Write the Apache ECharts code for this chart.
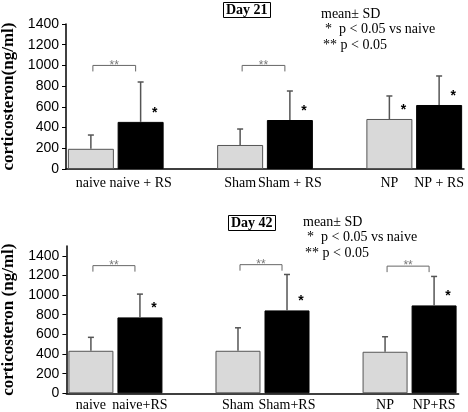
<!DOCTYPE html>
<html><head><meta charset="utf-8">
<script src="https://cdn.jsdelivr.net/npm/echarts@6/dist/echarts.min.js"></script>
<style>html,body{margin:0;padding:0;background:#fff}#c{width:468px;height:412px}</style>
</head><body><div id="c"></div>
<script>
// ---- data ----
const labelsTop = ['naive', 'naive + RS', 'Sham', 'Sham + RS', 'NP', 'NP + RS'];
const labelsBottom = ['naive', 'naive+RS', 'Sham', 'Sham+RS', 'NP', 'NP+RS'];
const meanTop = [195, 455, 232, 473, 483, 618];
const sdTop = [133, 385, 154, 280, 222, 280];
const meanBottom = [433, 773, 433, 844, 423, 895];
const sdBottom = [137, 237, 234, 366, 153, 295];
const starsTop = [1, 3, 4, 5];
const starsBottom = [1, 3, 5];
const bracketsTop = [[0, 1, 1000], [2, 3, 1000]];
const bracketsBottom = [[0, 1, 1300], [2, 3, 1310], [4, 5, 1295]];
const titleTop = 'Day 21';
const titleBottom = 'Day 42';
const yNameTop = 'corticosteron(ng/ml)';
const yNameBottom = 'corticosteron (ng/ml)';
const legendLines = ['mean\u00b1 SD', '*  p < 0.05 vs naive', '** p < 0.05'];

// ---- helpers ----
const slot = i => i + Math.floor(i / 2);   // leave an empty slot between groups
function cats(labels) {
  const out = [];
  labels.forEach((l, i) => { out[slot(i)] = l; });
  for (let k = 0; k < out.length; k++) if (out[k] === undefined) out[k] = '';
  return out;
}
function barData(means) {
  const out = cats(means.map(() => '')).map(() => '-');
  means.forEach((v, i) => {
    out[slot(i)] = {
      value: v,
      itemStyle: i % 2 === 0
        ? { color: '#d9d9d9', borderColor: '#555', borderWidth: 1 }
        : { color: '#000', borderColor: '#000', borderWidth: 1 }
    };
  });
  return out;
}
const serif = 'Liberation Serif';
const sans = 'Liberation Sans';

function errRender(params, api) {
  const x = api.value(0), m = api.value(1), s = api.value(2);
  const p0 = api.coord([x, m]), p1 = api.coord([x, m + s]);
  const st = { stroke: '#555', lineWidth: 1.5 };
  return { type: 'group', children: [
    { type: 'line', shape: { x1: p0[0], y1: p0[1], x2: p1[0], y2: p1[1] }, style: st },
    { type: 'line', shape: { x1: p1[0] - 3, y1: p1[1], x2: p1[0] + 3, y2: p1[1] }, style: st }
  ]};
}
function starRender(params, api) {
  const p = api.coord([api.value(0), api.value(1)]);
  return { type: 'text', style: { text: '*', x: p[0] + 14, y: p[1] - 9, align: 'center',
    verticalAlign: 'middle', fill: '#000', font: 'bold 14px ' + sans } };
}
function bracketRender(params, api) {
  const a = api.coord([api.value(0), api.value(2)]);
  const b = api.coord([api.value(1), api.value(2)]);
  const x1 = a[0] + 2, x2 = b[0] - 5, y = a[1];
  return { type: 'group', children: [
    { type: 'polyline', shape: { points: [[x1, y + 6], [x1, y], [x2, y], [x2, y + 6]] },
      style: { stroke: '#666', lineWidth: 1, fill: null } },
    { type: 'text', style: { text: '**', x: (x1 + x2) / 2, y: y, align: 'center',
      verticalAlign: 'middle', fill: '#777', font: '12px ' + sans } }
  ]};
}

function panel(idx, labels, means, sds, stars, brackets, ymax, yname, labelMargin) {
  return {
    xAxis: {
      type: 'category', gridIndex: idx, data: cats(labels),
      axisLine: { lineStyle: { color: '#000', width: 1.5 } },
      axisTick: { show: false },
      axisLabel: { interval: 0, color: '#000', fontFamily: serif, fontSize: 14, margin: labelMargin }
    },
    yAxis: {
      type: 'value', gridIndex: idx, min: 0, max: ymax, interval: 200,
      name: yname, nameLocation: 'middle', nameRotate: 90, nameGap: 49,
      nameTextStyle: { fontFamily: serif, fontWeight: 'bold', fontSize: 17, color: '#000' },
      axisLine: { show: true, lineStyle: { color: '#000', width: 1.5 } },
      axisTick: { show: true, length: 4, lineStyle: { color: '#000' } },
      axisLabel: { color: '#000', fontFamily: sans, fontSize: 14, margin: 7,
        showMaxLabel: ymax === 1400, formatter: v => String(v) },
      splitLine: { show: false }
    },
    series: [
      { type: 'bar', xAxisIndex: idx, yAxisIndex: idx, barWidth: idx === 0 ? 46 : 45,
        data: barData(means), silent: true },
      { type: 'custom', xAxisIndex: idx, yAxisIndex: idx, renderItem: errRender, z: 3,
        data: means.map((m, i) => [slot(i), m, sds[i]]), encode: { x: 0, y: [1, 2] } },
      { type: 'custom', xAxisIndex: idx, yAxisIndex: idx, renderItem: starRender, z: 4,
        data: stars.map(i => [slot(i), means[i]]), encode: { x: 0, y: 1 } },
      { type: 'custom', xAxisIndex: idx, yAxisIndex: idx, renderItem: bracketRender, z: 4,
        data: brackets.map(b => [slot(b[0]), slot(b[1]), b[2]]), encode: { x: [0, 1], y: 2 } }
    ]
  };
}

const p1 = panel(0, labelsTop, meanTop, sdTop, starsTop, bracketsTop, 1400, yNameTop, 7);
const p2 = panel(1, labelsBottom, meanBottom, sdBottom, starsBottom, bracketsBottom, 1500, yNameBottom, 5);

function legendText(x, y) {
  return legendLines.map((t, k) => ({
    type: 'text', left: x + (k === 0 ? 0 : (k === 1 ? 4 : 2)), top: y + k * 15.5,
    style: { text: t, font: '14px ' + serif, fill: '#000' }
  }));
}

const titleStyle = { fontFamily: serif, fontWeight: 'bold', fontSize: 14, color: '#000', lineHeight: 14 };
const option = {
  animation: false,
  backgroundColor: '#fff',
  title: [
    { text: titleTop, left: 223, top: 2, padding: [1, 3], borderColor: '#000', borderWidth: 1, textStyle: titleStyle },
    { text: titleBottom, left: 228, top: 215, padding: [1, 3], borderColor: '#000', borderWidth: 1, textStyle: titleStyle }
  ],
  grid: [
    { left: 66, right: 4, top: 24, bottom: 243, containLabel: false, outerBoundsMode: 'none' },
    { left: 66.4, right: 9.4, top: 246, bottom: 18.7, containLabel: false, outerBoundsMode: 'none' }
  ],
  xAxis: [p1.xAxis, p2.xAxis],
  yAxis: [p1.yAxis, p2.yAxis],
  series: p1.series.concat(p2.series),
  graphic: legendText(321, 7).concat(legendText(303, 215))
};
const chart = echarts.init(document.getElementById('c'), null, { renderer: 'canvas' });
chart.setOption(option);
</script>
</body></html>
